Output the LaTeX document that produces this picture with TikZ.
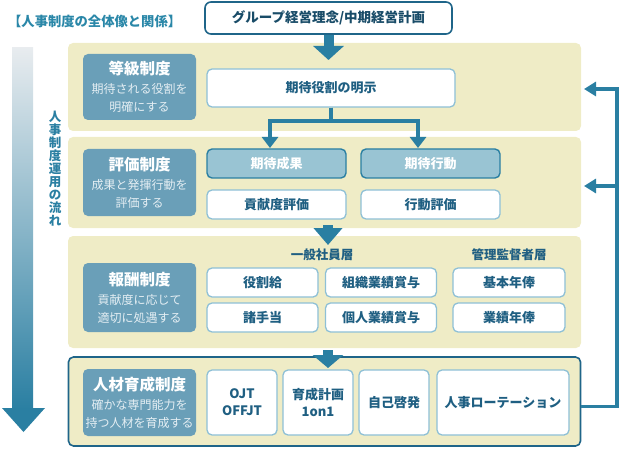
\documentclass[tikz,border=0pt]{standalone}
\usepackage{fontspec}
\setmainfont{Noto Sans CJK JP}
\usetikzlibrary{arrows.meta}
\definecolor{panelY}{HTML}{EFECC6}
\definecolor{catB}{HTML}{6A9FB8}
\definecolor{darkT}{HTML}{2A7FA2}
\definecolor{topB}{HTML}{1F6589}
\definecolor{lightB}{HTML}{8EC0D6}
\definecolor{midB}{HTML}{99C4D3}
\definecolor{boxT}{HTML}{1F5F82}
\definecolor{titleT}{HTML}{2A87A8}
\definecolor{subT}{HTML}{E4EEF3}
\definecolor{shaftTop}{HTML}{E8ECEF}
\newcommand\catT[1]{{\fontsize{15.5}{20}\selectfont\bfseries #1}}
\newcommand\catS[1]{{\color{subT}#1}}
\begin{document}
\begin{tikzpicture}[x=1pt,y=-1pt,
  panel/.style={fill=panelY, rounded corners=5pt, inner sep=0pt},
  cat/.style={fill=catB, rounded corners=5pt, text=white, align=center, inner sep=0pt,
    minimum width=113pt, font=\fontsize{12}{18}\selectfont},
  wbox/.style={draw=lightB, line width=1.3pt, fill=white, rounded corners=5pt, text=boxT,
    inner sep=0pt, align=center, font=\bfseries\fontsize{13}{17}\selectfont},
  bbox/.style={draw=darkT, line width=1.4pt, fill=midB, rounded corners=5pt, text=white,
    inner sep=0pt, font=\bfseries\fontsize{13}{17}\selectfont},
  bigarrow/.style={darkT, line width=10pt},
  conn/.style={darkT, line width=4.5pt, -{Triangle[width=16pt,length=11pt]}},
  fbl/.style={darkT, line width=3.5pt, -{Triangle[width=14pt,length=12pt]}},
  grp/.style={text=boxT, font=\bfseries\fontsize{12.5}{15}\selectfont, inner sep=0pt}
]
\useasboundingbox (0,0) rectangle (623,449);

% title
\node[anchor=west, text=titleT, font=\bfseries\fontsize{13.3}{15}\selectfont, inner sep=0pt] (ttl) at (8,21) {【人事制度の全体像と関係】};

% left flow arrow
\shade[top color=shaftTop, bottom color=darkT] (12,48) rectangle (33,409);
\fill[darkT] (2,408) -- (45,408) -- (23.5,432) -- cycle;
\node[text=darkT, font=\bfseries\fontsize{12.5}{13}\selectfont, align=center, inner sep=0pt] (flow) at (55,168.5) {人\\事\\制\\度\\運\\用\\の\\流\\れ};

% top box
\node[draw=topB, line width=1.6pt, fill=white, rounded corners=6pt, minimum width=247pt, minimum height=32pt,
  text=boxT!80!black, font=\bfseries\fontsize{13.5}{16}\selectfont, inner sep=0pt] (top) at (328.5,18) {グループ経営理念/中期経営計画};

% panels
\node[panel, minimum width=513pt, minimum height=88pt] (p1) at (324.5,87) {};
\node[panel, minimum width=513pt, minimum height=91pt] (p2) at (324.5,182.5) {};
\node[panel, minimum width=513pt, minimum height=112pt] (p3) at (324.5,292) {};
\node[panel, draw=topB, line width=1.6pt, minimum width=512pt, minimum height=89pt] (p4) at (324.5,401.5) {};

% category boxes
\node[cat, minimum height=66pt] (c1) at (139.5,87) {\catT{等級制度}\\[1pt]\catS{期待される役割を}\\\catS{明確にする}};
\node[cat, minimum height=67pt] (c2) at (139.5,182.5) {\catT{評価制度}\\[1pt]\catS{成果と発揮行動を}\\\catS{評価する}};
\node[cat, minimum height=69pt] (c3) at (139.5,297.5) {\catT{報酬制度}\\[1pt]\catS{貢献度に応じて}\\\catS{適切に処遇する}};
\node[cat, minimum height=67pt] (c4) at (139.5,402.5) {\catT{人材育成制度}\\[1pt]\catS{確かな専門能力を}\\\catS{持つ人材を育成する}};

% panel 1
\node[wbox, minimum width=248pt, minimum height=38pt] (e1) at (331,88) {期待役割の明示};

% panel 2
\node[bbox, minimum width=139pt, minimum height=29pt] (k1) at (276.5,163.5) {期待成果};
\node[bbox, minimum width=139pt, minimum height=29pt] (k2) at (430.5,163.5) {期待行動};
\node[wbox, minimum width=139pt, minimum height=29pt] (h1) at (276.5,204.5) {貢献度評価};
\node[wbox, minimum width=139pt, minimum height=29pt] (h2) at (430.5,204.5) {行動評価};

% panel 3
\node[grp] (g1) at (322,255) {一般社員層};
\node[grp] (g2) at (509,255) {管理監督者層};
\node[wbox, minimum width=111pt, minimum height=29pt] (r1) at (262.5,282.5) {役割給};
\node[wbox, minimum width=111pt, minimum height=29pt] (r2) at (381,282.5) {組織業績賞与};
\node[wbox, minimum width=112pt, minimum height=29pt] (r3) at (509,282.5) {基本年俸};
\node[wbox, minimum width=111pt, minimum height=29pt] (r4) at (262.5,317.5) {諸手当};
\node[wbox, minimum width=111pt, minimum height=29pt] (r5) at (381,317.5) {個人業績賞与};
\node[wbox, minimum width=112pt, minimum height=29pt] (r6) at (509,317.5) {業績年俸};

% panel 4
\node[wbox, minimum width=70pt, minimum height=65pt] (d1) at (242,402.5) {OJT\\OFFJT};
\node[wbox, minimum width=70pt, minimum height=65pt] (d2) at (318,402.5) {育成計画\\1on1};
\node[wbox, minimum width=70pt, minimum height=65pt] (d3) at (394,402.5) {自己啓発};
\node[wbox, minimum width=132pt, minimum height=65pt] (d4) at (503,402.5) {人事ローテーション};

% big arrows
\coordinate (a1t) at (328.5,60);
\draw[bigarrow, -{Triangle[width=30pt,length=14pt]}] (top.south) -- (a1t);
\coordinate (a2s) at (328,225);
\coordinate (a2t) at (328,245);
\draw[bigarrow, -{Triangle[width=28pt,length=17pt]}] (a2s) -- (a2t);
\coordinate (a3s) at (328,350);
\coordinate (a3t) at (328,368);
\draw[bigarrow, -{Triangle[width=30pt,length=13pt]}] (a3s) -- (a3t);

% panel 1 -> panel 2 connector
\coordinate (jn) at (331,121);
\coordinate (k1t) at (270,148);
\coordinate (k2t) at (418,148);
\draw[conn] (e1.south) -- (jn) -| (k1t);
\draw[conn] (e1.south) -- (jn) -| (k2t);

% feedback
\coordinate (fcr) at (617,89);
\coordinate (fmid) at (617,186);
\coordinate (fa1) at (584,89);
\coordinate (fa2) at (584,186);
\draw[fbl] ([yshift=-5pt]p4.east) -| (fcr) -- (fa1);
\draw[fbl] (fmid) -- (fa2);
\end{tikzpicture}
\end{document}
